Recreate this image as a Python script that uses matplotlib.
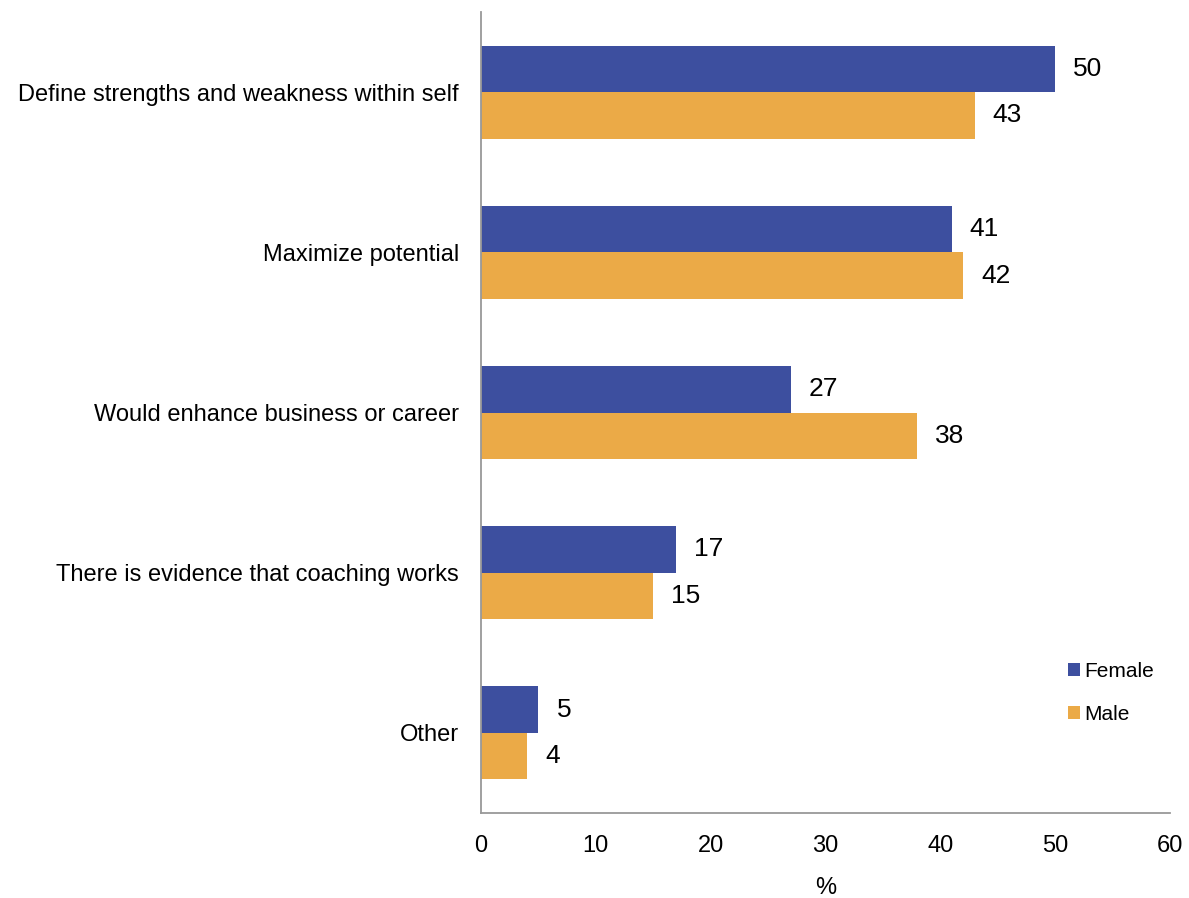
import numpy as np
import matplotlib
matplotlib.use('Agg')
from matplotlib import pyplot as plt

plt.rcParams['font.family'] = ['Liberation Sans', 'DejaVu Sans']

reasons = ['Define strengths and weakness within self',
           'Maximize potential',
           'Would enhance business or career',
           'There is evidence that coaching works',
           'Other']
female = [50, 41, 27, 17, 5]
male = [43, 42, 38, 15, 4]

blue = '#3D4F9F'
orange = '#EBAA47'

fig = plt.figure(figsize=(11.89, 8.98), dpi=100)
ax = fig.add_axes([481/1189, 1 - 813/898, (1170 - 481)/1189, (813 - 12)/898])

y = np.arange(len(reasons))
h = 0.29
b1 = ax.barh(y - h/2, female, height=h, color=blue, label='Female')
b2 = ax.barh(y + h/2, male, height=h, color=orange, label='Male')

for bars, vals in [(b1, female), (b2, male)]:
    for bar, v in zip(bars, vals):
        ax.annotate(str(v), (bar.get_width(), bar.get_y() + bar.get_height()/2),
                    xytext=(13, 0), textcoords='offset points',
                    ha='left', va='center', fontsize=19)

ax.set_xlim(0, 60)
ax.set_ylim(len(reasons) - 0.5, -0.5)
ax.set_xticks(range(0, 61, 10))
ax.set_yticks(y)
ax.set_yticklabels(reasons, fontsize=17)
ax.tick_params(axis='x', length=0, pad=16, labelsize=17)
ax.tick_params(axis='y', length=0, pad=16)
ax.set_xlabel('%', fontsize=17, labelpad=14)

for side in ['top', 'right']:
    ax.spines[side].set_visible(False)
for side in ['left', 'bottom']:
    ax.spines[side].set_color('#999999')
    ax.spines[side].set_linewidth(1.3)

ax.legend(loc='upper left', bbox_to_anchor=(1049/1189, 1 - 643/898),
          bbox_transform=fig.transFigure, frameon=False, fontsize=15,
          handlelength=0.6, handleheight=0.6, handletextpad=0.2,
          labelspacing=1.15)

fig.savefig('out.png', dpi=100)
